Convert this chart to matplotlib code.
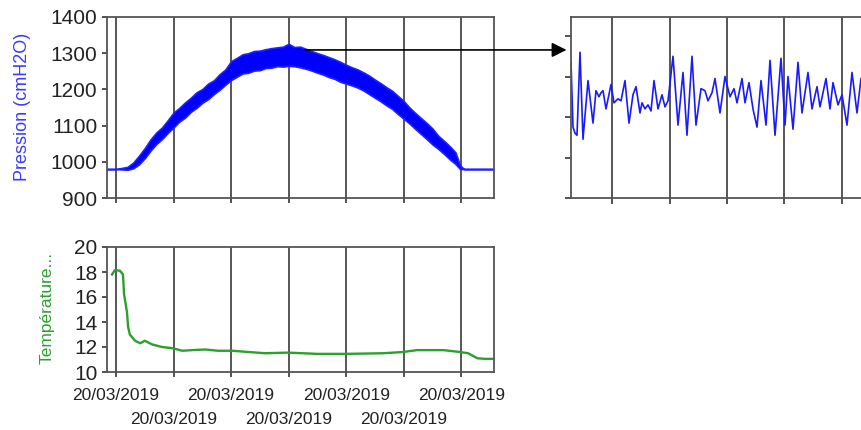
import matplotlib.pyplot as plt

plt.rcParams['font.family'] = ['Liberation Sans', 'DejaVu Sans']

# Pression : temps (pas de grille = 1), enveloppe basse / haute du signal bruité
p_t = [-0.16, 0.0, 0.2, 0.3, 0.4, 0.5, 0.6, 0.7, 0.8, 0.9, 1.0, 1.1, 1.2, 1.3, 1.4, 1.5,
       1.6, 1.7, 1.8, 1.9, 2.0, 2.1, 2.2, 2.3, 2.4, 2.5, 2.6, 2.7, 2.8, 2.9, 3.0, 3.1,
       3.2, 3.3, 3.4, 3.5, 3.6, 3.7, 3.8, 3.9, 4.0, 4.1, 4.2, 4.3, 4.4, 4.5, 4.6, 4.7,
       4.8, 4.9, 5.0, 5.1, 5.2, 5.3, 5.4, 5.5, 5.6, 5.7, 5.8, 5.9, 5.98, 6.05, 6.57]
p_lo = [980, 980, 978, 982, 993, 1010, 1031, 1049, 1063, 1080, 1095, 1111, 1122, 1138,
        1149, 1163, 1173, 1187, 1199, 1213, 1226, 1235, 1244, 1246, 1252, 1253, 1259,
        1260, 1264, 1263, 1265, 1264, 1261, 1257, 1252, 1246, 1241, 1234, 1229, 1221,
        1216, 1211, 1205, 1197, 1187, 1177, 1167, 1156, 1146, 1132, 1119, 1106, 1091,
        1077, 1063, 1048, 1036, 1022, 1007, 994, 980, 980, 980]
p_hi = [980, 980, 986, 998, 1017, 1038, 1062, 1081, 1095, 1115, 1136, 1149, 1164, 1177,
        1192, 1201, 1216, 1225, 1242, 1255, 1278, 1287, 1297, 1300, 1306, 1307, 1311,
        1314, 1316, 1318, 1326, 1317, 1318, 1312, 1306, 1300, 1295, 1289, 1283, 1276,
        1268, 1261, 1255, 1247, 1238, 1227, 1217, 1206, 1196, 1182, 1168, 1150, 1135,
        1121, 1107, 1092, 1072, 1058, 1043, 1026, 990, 980, 980]

# Zoom sur la pression (secondes)
z_t = [0, 2, 4, 6, 9, 12, 17, 22, 25, 28, 30, 32, 35, 40, 43, 47, 50, 54, 58, 62, 65, 69,
       71, 74, 77, 80, 83, 87, 91, 94, 97, 102, 107, 112, 116, 121, 125, 130, 134, 137,
       141, 144, 149, 154, 159, 163, 166, 171, 174, 178, 182, 186, 190, 195, 199, 204,
       210, 214, 217, 222, 227, 231, 237, 241, 246, 249, 255, 259, 262, 267, 271, 276,
       281, 286, 290]
z_p = [1327, 1295, 1292, 1291, 1332, 1289, 1318, 1297, 1313, 1310, 1312, 1313, 1304,
       1316, 1307, 1309, 1308, 1318, 1297, 1311, 1315, 1302, 1307, 1304, 1306, 1303,
       1318, 1304, 1311, 1305, 1308, 1330, 1296, 1322, 1291, 1330, 1296, 1314, 1313,
       1308, 1312, 1319, 1302, 1320, 1310, 1314, 1307, 1319, 1307, 1317, 1304, 1295,
       1318, 1296, 1328, 1291, 1329, 1296, 1320, 1294, 1327, 1302, 1322, 1304, 1315,
       1305, 1319, 1304, 1317, 1306, 1311, 1296, 1322, 1302, 1319]

# Température
t_t = [-0.07, -0.02, 0.07, 0.12, 0.14, 0.19, 0.21, 0.24, 0.33, 0.42, 0.50, 0.63, 0.80,
       0.99, 1.15, 1.32, 1.55, 1.77, 2.02, 2.30, 2.59, 2.99, 3.50, 4.00, 4.64, 4.99,
       5.23, 5.69, 5.98, 6.12, 6.28, 6.42, 6.56]
t_v = [17.8, 18.15, 18.1, 17.8, 16.2, 14.8, 13.6, 13.0, 12.5, 12.3, 12.5, 12.2, 12.0,
       11.9, 11.7, 11.75, 11.8, 11.7, 11.7, 11.6, 11.5, 11.55, 11.45, 11.45, 11.5, 11.6,
       11.75, 11.75, 11.6, 11.5, 11.1, 11.05, 11.05]

date_lbl = '20/03/2019'
txt = '#222222'
edge = '#555555'

fig = plt.figure(figsize=(8.61, 4.30), dpi=100)
W, H = 861, 430
ax1 = fig.add_axes([107 / W, 1 - 198 / H, 387 / W, 181 / H])
ax2 = fig.add_axes([107 / W, 1 - 372 / H, 387 / W, 125 / H])
ax3 = fig.add_axes([571 / W, 1 - 198 / H, 300 / W, 181 / H])

for ax in (ax1, ax2, ax3):
    for s in ax.spines.values():
        s.set_color(edge)
        s.set_linewidth(1.3)
    ax.tick_params(colors=txt, which='both', direction='out', length=3.5, width=1.1,
                   labelsize=15)
    ax.grid(axis='x', which='both', color='#3a3a3a', linewidth=1.2)
    ax.set_axisbelow(True)

# Pression
ax1.fill_between(p_t, p_lo, p_hi, color='#0000ff', linewidth=1.2, edgecolor='#2020ff')
ax1.set_xlim(-0.157, 6.57)
ax1.set_ylim(900, 1400)
ax1.set_yticks(range(900, 1401, 100))
ax1.set_xticks(range(7))
ax1.set_xticklabels([])

# Température
ax2.plot(t_t, t_v, color='#2ca02c', linewidth=1.7)
ax2.set_xlim(-0.157, 6.57)
ax2.set_ylim(10, 20)
ax2.set_yticks(range(10, 21, 2))
ax2.set_xticks([0, 2, 4, 6])
ax2.set_xticks([1, 3, 5], minor=True)
ax2.set_xticklabels([date_lbl] * 4)
ax2.set_xticklabels([date_lbl] * 3, minor=True)
ax2.tick_params(axis='x', which='major', labelsize=12.5, pad=8)
ax2.tick_params(axis='x', which='minor', labelsize=12.5, pad=25)

# Zoom
ax3.plot(z_t, z_p, color='#1a1aff', linewidth=1.2)
ax3.set_xlim(0, 300)
ax3.set_ylim(1260, 1349.4)
ax3.set_yticks([1260, 1280, 1300, 1320, 1340])
ax3.set_yticklabels([])
ax3.set_xticks([41 + 57.5 * k for k in range(5)])
ax3.set_xticklabels([])
ax3.tick_params(length=4)

ax1.annotate('', xy=(-0.015, 0.818), xycoords=ax3.transAxes,
             xytext=(3.29, 1309), textcoords='data',
             arrowprops=dict(arrowstyle='-|>', color='black', lw=1.2, mutation_scale=22,
                             shrinkA=0, shrinkB=0),
             annotation_clip=False)

fig.text(23 / W, 1 - 107 / H, 'Pression (cmH2O)', rotation=90, ha='center', va='center',
         color='#3a3aff', fontsize=13)
fig.text(47.5 / W, 1 - 308 / H, 'Température...', rotation=90, ha='center', va='center',
         color='#2ca02c', fontsize=12.5)

fig.savefig('out.png', dpi=100)
